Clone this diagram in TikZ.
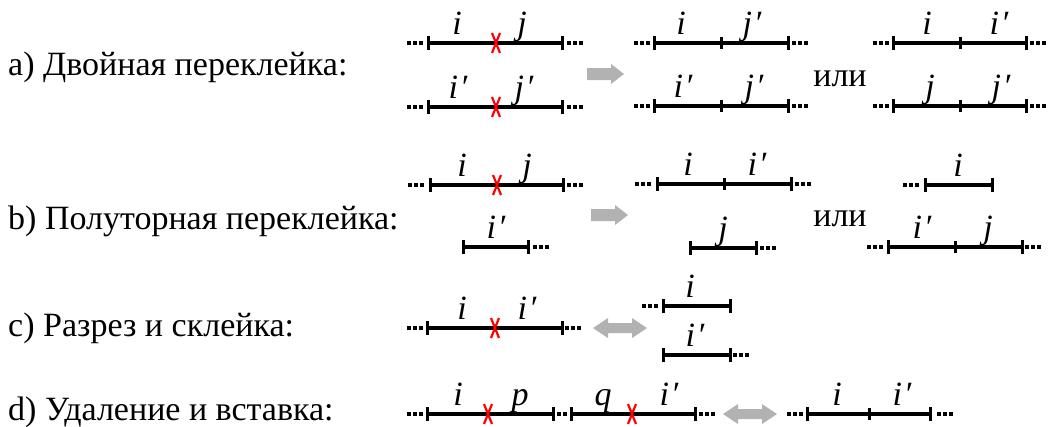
\documentclass[tikz,border=0pt]{standalone}
\usepackage{fontspec}
\setmainfont{Liberation Serif}
\begin{document}
\begin{tikzpicture}[x=1pt,y=-1pt,
  segsty/.style={line width=4pt,black},
  ticksty/.style={line width=3pt,black},
  dotsty/.style={line width=4pt,black,dash pattern=on 4pt off 2pt},
  xsty/.style={red,line width=2.2pt},
  arrsty/.style={fill=black!30},
  lblsty/.style={anchor=base,inner sep=0pt,font=\fontsize{34}{40}\selectfont\itshape},
  txtsty/.style={anchor=base west,inner sep=0pt,font=\fontsize{34}{40}\selectfont},
  ilisty/.style={anchor=base,inner sep=0pt,font=\fontsize{34}{40}\selectfont}]
\useasboundingbox (0,0) rectangle (1051,426);
\newcommand\chrseg[3]{\draw[segsty] (#1,#3) -- (#2,#3);
  \draw[ticksty] (#1,#3-7) -- (#1,#3+7); \draw[ticksty] (#2,#3-7) -- (#2,#3+7);}
\newcommand\midtick[2]{\draw[ticksty] (#1,#2-6) -- (#1,#2+6);}
\newcommand\dotsat[2]{\draw[dotsty] (#1,#2) -- ++(16,0);}
\newcommand\cutx[2]{\draw[xsty] (#1-4,#2-10) -- (#1+4,#2+10) (#1-4,#2+10) -- (#1+4,#2-10);}
\newcommand\lbl[3]{\node[lblsty] (l-#1-#2) at (#1,#2-9) {#3};}
\newcommand\pr{\kern2pt′}
\newcommand\onearrow[2]{\fill[arrsty] (#1,#2-6) -- (#1+24,#2-6) -- (#1+24,#2-10) -- (#1+37,#2) -- (#1+24,#2+10) -- (#1+24,#2+6) -- (#1,#2+6) -- cycle;}
\newcommand\twoarrow[2]{\fill[arrsty] (#1,#2) -- (#1+15,#2-10) -- (#1+15,#2-5) -- (#1+39,#2-5) -- (#1+39,#2-10) -- (#1+54,#2) -- (#1+39,#2+10) -- (#1+39,#2+5) -- (#1+15,#2+5) -- (#1+15,#2+10) -- cycle;}

% left texts
\node[txtsty] (ta) at (8,75) {a) Двойная переклейка:};
\node[txtsty] (tb) at (8,229) {b) Полуторная переклейка:};
\node[txtsty] (tc) at (8,336) {c) Разрез и склейка:};
\node[txtsty] (td) at (8,420) {d) Удаление и вставка:};

% ---- row a ----
\dotsat{407}{43}\chrseg{428}{562}{43}\dotsat{567}{43}\cutx{496}{43}
\lbl{457}{43}{i}\lbl{522}{43}{j}
\dotsat{407}{107}\chrseg{428}{562}{107}\dotsat{567}{107}\cutx{496}{107}
\lbl{458}{107}{i\pr}\lbl{524}{107}{j\pr}
\onearrow{587}{74}
\dotsat{634}{43}\chrseg{654}{788}{43}\midtick{721}{43}\dotsat{792}{43}
\lbl{681}{43}{i}\lbl{752}{43}{j\pr}
\dotsat{634}{106}\chrseg{654}{788}{106}\midtick{721}{106}\dotsat{792}{106}
\lbl{683}{106}{i\pr}\lbl{754}{106}{j\pr}
\node[ilisty] (ila) at (840,86) {или};
\dotsat{873}{43}\chrseg{893}{1026}{43}\midtick{960}{43}\dotsat{1030}{43}
\lbl{927}{43}{i}\lbl{999}{43}{i\pr}
\dotsat{873}{106}\chrseg{893}{1026}{106}\midtick{960}{106}\dotsat{1030}{106}
\lbl{930}{106}{j}\lbl{1001}{106}{j\pr}

% ---- row b ----
\dotsat{408}{185}\chrseg{430}{563}{185}\dotsat{567}{185}\cutx{497}{185}
\lbl{462}{185}{i}\lbl{527}{185}{j}
\chrseg{463}{528}{247}\dotsat{533}{247}
\lbl{496}{247}{i\pr}
\onearrow{591}{215}
\dotsat{635}{184}\chrseg{657}{791}{184}\midtick{724}{184}\dotsat{795}{184}
\lbl{688}{184}{i}\lbl{757}{184}{i\pr}
\chrseg{690}{756}{248}\dotsat{760}{248}
\lbl{723}{248}{j}
\node[ilisty] (ilb) at (840,226) {или};
\dotsat{903}{185}\chrseg{925}{992}{185}
\lbl{958}{185}{i}
\dotsat{867}{247}\chrseg{888}{1022}{247}\midtick{955}{247}\dotsat{1025}{247}
\lbl{922}{247}{i\pr}\lbl{988}{247}{j}

% ---- row c ----
\dotsat{407}{328}\chrseg{427}{562}{328}\dotsat{565}{328}\cutx{495}{328}
\lbl{462}{328}{i}\lbl{527}{328}{i\pr}
\twoarrow{593}{328}
\dotsat{642}{306}\chrseg{663}{730}{306}
\lbl{690}{306}{i}
\chrseg{663}{730}{355}\dotsat{733}{355}
\lbl{695}{355}{i\pr}

% ---- row d ----
\dotsat{407}{414}\chrseg{427}{553}{414}\cutx{488}{414}
\draw[dotsty] (557,414) -- (567,414);
\chrseg{571}{695}{414}\cutx{632}{414}\dotsat{699}{414}
\lbl{458}{414}{i}\lbl{520}{414}{p}\lbl{603}{414}{q}\lbl{669}{414}{i\pr}
\twoarrow{723}{414}
\dotsat{787}{414}\chrseg{807}{930}{414}\midtick{869}{414}\dotsat{937}{414}
\lbl{837}{414}{i}\lbl{902}{414}{i\pr}
\end{tikzpicture}
\end{document}
